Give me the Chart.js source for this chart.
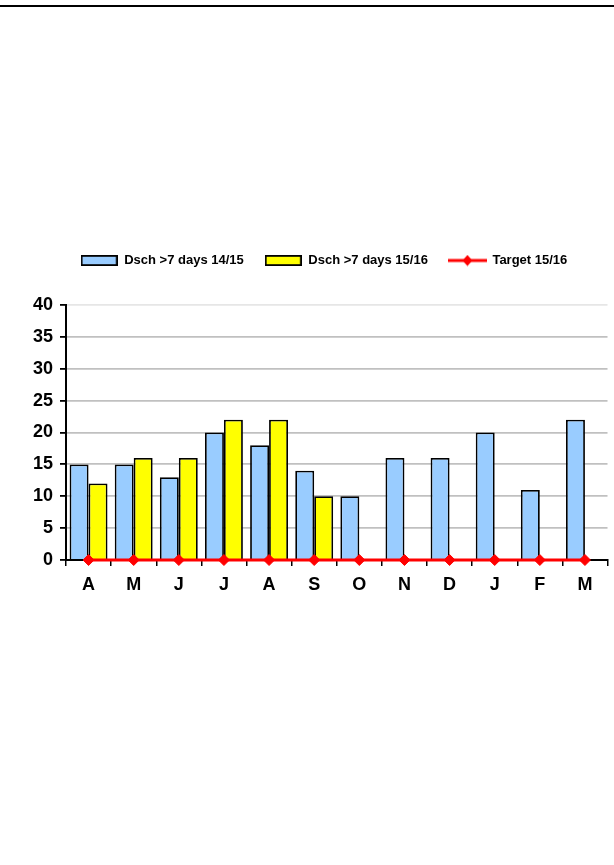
<!DOCTYPE html>
<html>
<head>
<meta charset="utf-8">
<script src="https://cdn.jsdelivr.net/npm/chart.js@4/dist/chart.umd.min.js"></script>
<style>
  html, body { margin: 0; padding: 0; background: #fff; }
  #wrap { position: relative; width: 614px; height: 865px; }
  #topline { position: absolute; left: 0; top: 5px; width: 614px; height: 2px; background: #000; }
  canvas { position: absolute; left: 0; top: 0; }
</style>
</head>
<body>
<div id="wrap">
  <div id="topline"></div>
  <canvas id="c" width="614" height="865"></canvas>
</div>
<script>
const categories = ['A', 'M', 'J', 'J', 'A', 'S', 'O', 'N', 'D', 'J', 'F', 'M'];
const dsch1415 = [15, 15, 13, 20, 18, 14, 10, 16, 16, 20, 11, 22];
const dsch1516 = [12, 16, 16, 22, 22, 10, null, null, null, null, null, null];
const target1516 = [0, 0, 0, 0, 0, 0, 0, 0, 0, 0, 0, 0];
const seriesNames = ['Dsch >7 days 14/15', 'Dsch >7 days 15/16', 'Target 15/16'];
const yTicks = [0, 5, 10, 15, 20, 25, 30, 35, 40];

const FONT = "'Liberation Sans', Arial, sans-serif";
const BLUE = '#99CCFF';
const YELLOW = '#FFFF00';
const RED = '#FF0000';

function boxImg(fill) {
  const c = document.createElement('canvas');
  c.width = 37; c.height = 11;
  const g = c.getContext('2d');
  g.fillStyle = fill; g.fillRect(1, 1, 35, 9);
  g.strokeStyle = '#000'; g.lineWidth = 1.8; g.strokeRect(0.9, 0.9, 35.2, 9.2);
  return c;
}
function lineImg() {
  const c = document.createElement('canvas');
  c.width = 39; c.height = 12;
  const g = c.getContext('2d');
  g.strokeStyle = RED; g.lineWidth = 3;
  g.beginPath(); g.moveTo(0, 6); g.lineTo(39, 6); g.stroke();
  g.fillStyle = RED;
  g.beginPath(); g.moveTo(19.5, 0.5); g.lineTo(24.5, 6); g.lineTo(19.5, 11.5); g.lineTo(14.5, 6); g.closePath(); g.fill();
  return c;
}
const legendImgs = [boxImg(BLUE), boxImg(YELLOW), lineImg()];

const legendGap = {
  id: 'legendGap',
  beforeUpdate(chart) {
    const lg = chart.legend;
    if (lg && !lg._gapPatched) {
      const orig = lg.fit;
      lg.fit = function () { orig.call(this); this.height += 28; };
      lg._gapPatched = true;
    }
  },
  afterLayout(chart) {
    const lg = chart.legend;
    if (lg) { lg.left += 20; lg.right += 20; }
  }
};

new Chart(document.getElementById('c'), {
  type: 'bar',
  data: {
    labels: categories,
    datasets: [
      { type: 'bar', label: seriesNames[0], data: dsch1415, backgroundColor: BLUE, borderColor: '#000', borderWidth: 1.8, borderSkipped: 'bottom', categoryPercentage: 0.84, barPercentage: 1, order: 2 },
      { type: 'bar', label: seriesNames[1], data: dsch1516, backgroundColor: YELLOW, borderColor: '#000', borderWidth: 1.8, borderSkipped: 'bottom', categoryPercentage: 0.84, barPercentage: 1, order: 2 },
      { type: 'line', label: seriesNames[2], data: target1516, borderColor: RED, backgroundColor: RED, borderWidth: 3, pointStyle: 'rectRot', pointRadius: 5.5, pointBorderWidth: 1, pointBorderColor: RED, pointBackgroundColor: RED, clip: false, order: 0 }
    ]
  },
  options: {
    responsive: false,
    animation: false,
    events: [],
    layout: { padding: { left: 0, right: 6, top: 233, bottom: 265 } },
    plugins: {
      tooltip: { enabled: false },
      legend: {
        position: 'top',
        align: 'center',
        labels: {
          usePointStyle: true,
          pointStyleWidth: 37,
          boxHeight: 11,
          padding: 21,
          color: '#000',
          font: { family: FONT, size: 13, weight: 'bold' },
          generateLabels(chart) {
            return seriesNames.map((n, i) => ({
              text: n, pointStyle: legendImgs[i], datasetIndex: i, hidden: false,
              fillStyle: 'transparent', strokeStyle: 'transparent', lineWidth: 0, fontColor: '#000'
            }));
          }
        }
      }
    },
    scales: {
      x: {
        offset: true,
        grid: { display: true, offset: true, drawOnChartArea: false, drawTicks: true, tickLength: 6, tickColor: '#000', color: '#000', lineWidth: 1.5 },
        border: { display: true, color: '#000', width: 2 },
        ticks: { color: '#000', padding: 8, font: { family: FONT, size: 18, weight: 'bold' }, maxRotation: 0, autoSkip: false },
        afterFit(s) { s.height = 40; }
      },
      y: {
        min: 0, max: 40,
        afterBuildTicks(s) { s.ticks = yTicks.map(v => ({ value: v })); },
        grid: {
          color: ctx => (ctx.tick && ctx.tick.value === 40) ? '#e6e6e6' : '#c0c0c0',
          tickColor: '#000', lineWidth: 1.8, drawTicks: true, tickLength: 6
        },
        border: { display: true, color: '#000', width: 2 },
        ticks: { color: '#000', padding: 7, font: { family: FONT, size: 18, weight: 'bold' } },
        afterFit(s) { s.width = 66; }
      }
    }
  },
  plugins: [legendGap]
});
</script>
</body>
</html>
